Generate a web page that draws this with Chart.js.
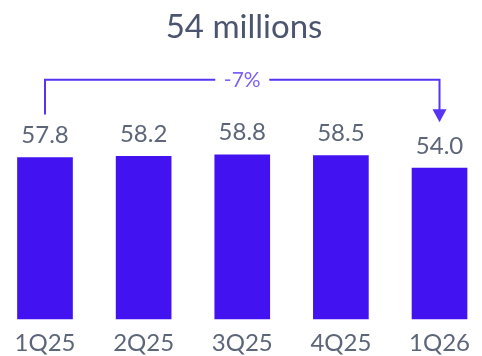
<!DOCTYPE html>
<html>
<head>
<meta charset="utf-8">
<script src="https://cdn.jsdelivr.net/npm/chart.js@4"></script>
<style>
  html, body { margin: 0; padding: 0; background: #fff; }
  #wrap { width: 482px; height: 356px; }
</style>
</head>
<body>
<div id="wrap"><canvas id="myChart" width="482" height="356"></canvas></div>
<script>
const quarters = ["1Q25", "2Q25", "3Q25", "4Q25", "1Q26"];
const users = [57.8, 58.2, 58.8, 58.5, 54.0];
const titleText = "54 millions";
const changeText = "-7%";

const barColor = '#4212f0';
const textGray = '#5d6679';

// value labels above bars + the -7% bracket between first and last bar
const annotations = {
    id: 'annotations',
    afterDatasetsDraw(chart) {
        const ctx = chart.ctx;
        const meta = chart.getDatasetMeta(0);
        ctx.save();
        ctx.font = '24px Lato';
        ctx.fillStyle = textGray;
        ctx.textAlign = 'center';
        ctx.textBaseline = 'middle';
        meta.data.forEach((bar, i) => {
            ctx.fillText(users[i].toFixed(1), bar.x, bar.y - 22);
        });

        const first = meta.data[0];
        const last = meta.data[meta.data.length - 1];
        const topY = chart.scales.y.getPixelForValue(Math.max(...users)) - 75;
        const midX = (first.x + last.x) / 2;
        ctx.strokeStyle = '#5634f2';
        ctx.fillStyle = '#5634f2';
        ctx.lineWidth = 2;
        ctx.beginPath();
        ctx.moveTo(first.x, first.y - 43);
        ctx.lineTo(first.x, topY);
        ctx.lineTo(midX - 27, topY);
        ctx.moveTo(midX + 27, topY);
        ctx.lineTo(last.x, topY);
        ctx.lineTo(last.x, last.y - 58);
        ctx.stroke();
        ctx.beginPath();
        ctx.moveTo(last.x - 7, last.y - 59);
        ctx.lineTo(last.x + 7, last.y - 59);
        ctx.lineTo(last.x, last.y - 46);
        ctx.closePath();
        ctx.fill();

        ctx.font = '21px Lato';
        ctx.fillStyle = '#7d60f5';
        ctx.fillText(changeText, midX, topY + 1);
        ctx.restore();
    }
};

const ctx = document.getElementById('myChart').getContext('2d');
const myChart = new Chart(ctx, {
    type: 'bar',
    data: {
        labels: quarters,
        datasets: [{
            data: users,
            backgroundColor: barColor,
            barThickness: 55,
            clip: false
        }]
    },
    options: {
        responsive: false,
        animation: false,
        layout: { padding: { left: 45, right: 39, top: 0, bottom: 0 } },
        plugins: {
            legend: { display: false },
            tooltip: { enabled: false },
            title: {
                display: true,
                text: titleText,
                color: '#4b5570',
                font: { family: 'Lato', size: 33, weight: 'normal', lineHeight: 1.2 },
                padding: { top: 8, bottom: 6 }
            }
        },
        scales: {
            x: {
                offset: false,
                grid: { display: false, drawTicks: false },
                border: { display: false },
                ticks: {
                    color: textGray,
                    padding: 12,
                    font: { family: 'Lato', size: 24, lineHeight: 1.0 }
                },
                afterFit(scale) { scale.height = 37; }
            },
            y: {
                display: false,
                min: 0,
                max: 95
            }
        }
    },
    plugins: [annotations]
});
</script>
</body>
</html>
